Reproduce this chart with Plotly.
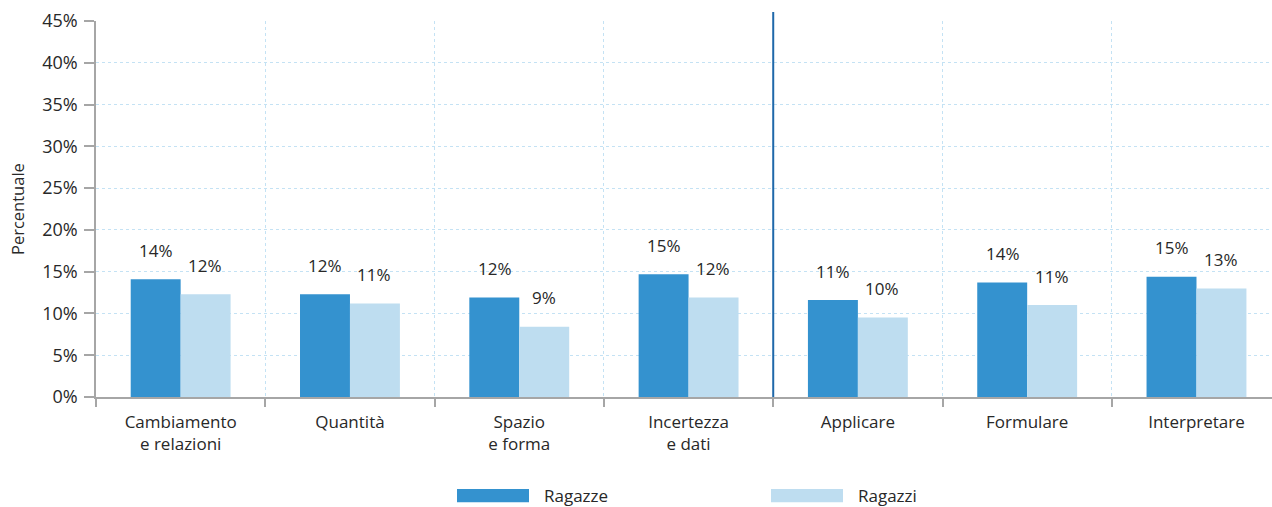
import plotly.graph_objects as go

categories = ["Cambiamento<br>e relazioni", "Quantità", "Spazio<br>e forma", "Incertezza<br>e dati",
              "Applicare", "Formulare", "Interpretare"]
ragazze = [14.1, 12.3, 11.9, 14.7, 11.6, 13.7, 14.4]
ragazzi = [12.3, 11.2, 8.4, 11.9, 9.5, 11.0, 13.0]
ragazze_labels = ["14%", "12%", "12%", "15%", "11%", "14%", "15%"]
ragazzi_labels = ["12%", "11%", "9%", "12%", "10%", "11%", "13%"]
y_ticks = [0, 5, 10, 15, 20, 25, 30, 35, 40, 45]
y_tick_labels = [f"{v}%" for v in y_ticks]

DARK = "rgb(52,146,207)"
LIGHT = "rgb(190,221,240)"
GRID = "rgb(196,226,244)"
AXIS = "rgb(166,166,166)"
TXT = "rgb(40,40,40)"
FONT = "Open Sans"

fig = go.Figure()
fig.add_trace(go.Bar(x=categories, y=ragazze, name="Ragazze", marker_color=DARK,
                     marker_line_width=0, hoverinfo="skip"))
fig.add_trace(go.Bar(x=categories, y=ragazzi, name="Ragazzi", marker_color=LIGHT,
                     marker_line_width=0, hoverinfo="skip"))

annotations = []
for c, v, t in zip(categories, ragazze, ragazze_labels):
    annotations.append(dict(x=c, y=v, xref="x", yref="y", text=t, showarrow=False,
                            xshift=-24.5, yshift=29, yanchor="middle",
                            font=dict(family=FONT, size=17, color=TXT)))
for c, v, t in zip(categories, ragazzi, ragazzi_labels):
    annotations.append(dict(x=c, y=v, xref="x", yref="y", text=t, showarrow=False,
                            xshift=24.5, yshift=29, yanchor="middle",
                            font=dict(family=FONT, size=17, color=TXT)))

# y-axis title
annotations.append(dict(x=0, y=0.5, xref="paper", yref="paper", text="Percentuale",
                        textangle=-90, showarrow=False, xshift=-79, xanchor="center",
                        yanchor="middle", font=dict(family=FONT, size=16.5, color=TXT)))

# custom legend
leg_items = [("Ragazze", DARK, 457), ("Ragazzi", LIGHT, 771)]
shapes = []
W = 1272
for name, col, x0 in leg_items:
    shapes.append(dict(type="rect", xref="paper", yref="paper",
                       x0=(x0 - 96) / (W - 96), x1=(x0 + 72 - 96) / (W - 96),
                       y0=(396 - 501) / 375.5, y1=(396 - 488) / 375.5,
                       fillcolor=col, line=dict(width=0)))
    annotations.append(dict(x=(x0 + 85 - 96) / (W - 96), y=(396 - 494.5) / 375.5,
                            xref="paper", yref="paper", text=name, showarrow=False,
                            xanchor="left", yanchor="middle",
                            font=dict(family=FONT, size=17, color=TXT)))

# separator line between content and process categories
shapes.append(dict(type="line", xref="x", yref="paper", x0=3.5, x1=3.5, y0=0, y1=1.024,
                   line=dict(color="rgb(31,104,170)", width=2)))

fig.update_layout(
    width=1272, height=507,
    margin=dict(l=96, r=0, t=21, b=110),
    paper_bgcolor="white", plot_bgcolor="white",
    barmode="group", bargap=0.41, bargroupgap=0,
    showlegend=False,
    annotations=annotations, shapes=shapes,
    font=dict(family=FONT, size=17, color=TXT),
)
fig.update_xaxes(
    range=[-0.5, 6.446], tickson="boundaries", ticks="outside", ticklen=8,
    tickcolor=AXIS, tickwidth=1.5,
    showline=True, linecolor=AXIS, linewidth=1.5,
    showgrid=True, gridcolor=GRID, griddash="dot", gridwidth=1.2,
    tickfont=dict(family=FONT, size=17, color=TXT), fixedrange=True,
    ticklabelstandoff=9,
)
fig.update_yaxes(
    range=[0, 45], tickvals=y_ticks, ticktext=y_tick_labels, ticks="outside", ticklen=10,
    tickcolor=AXIS, tickwidth=1.5,
    showline=True, linecolor=AXIS, linewidth=1.5,
    showgrid=True, gridcolor=GRID, griddash="dot", gridwidth=1.2,
    zeroline=False, tickfont=dict(family=FONT, size=18, color=TXT), fixedrange=True,
    ticklabelstandoff=3,
)

fig.write_html("out.html", config={"displayModeBar": False},
               post_script="document.body.style.margin='0px';")
